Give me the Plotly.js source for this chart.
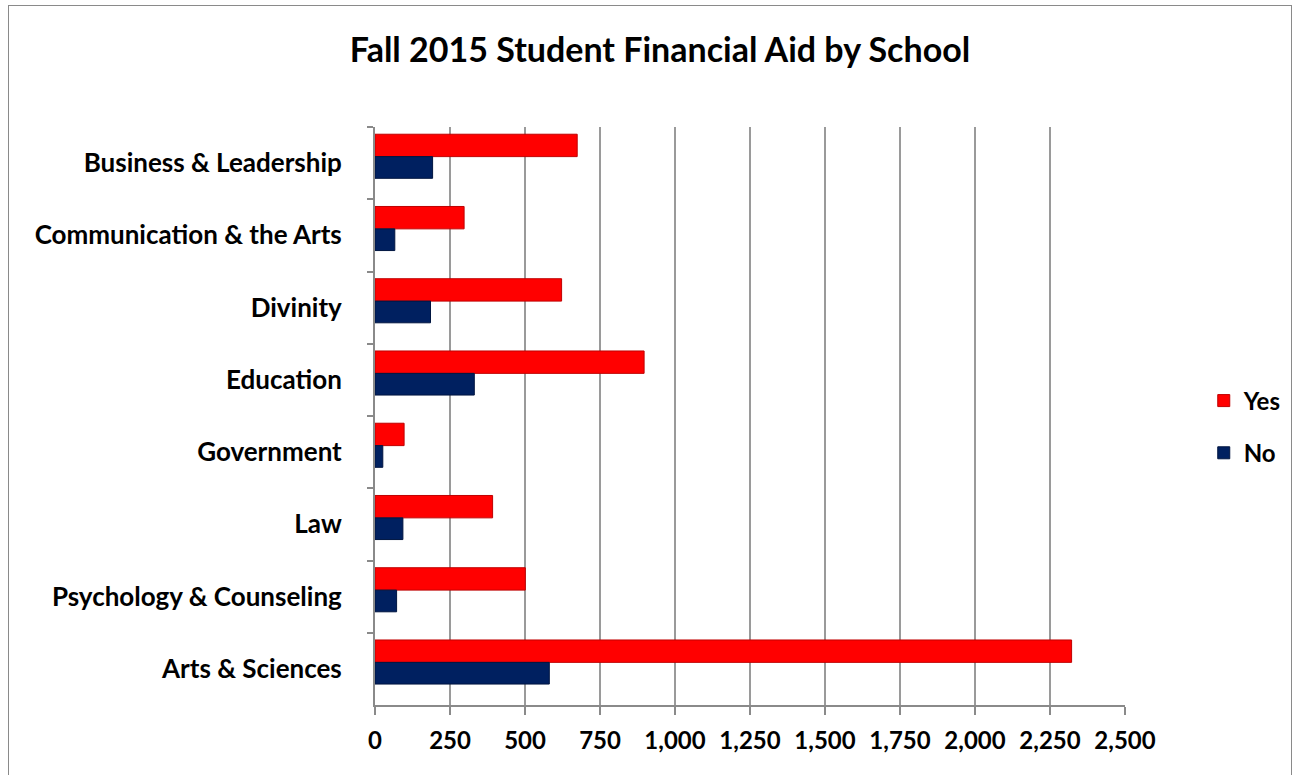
<!DOCTYPE html>
<html>
<head>
<meta charset="utf-8">
<script src="https://cdn.plot.ly/plotly-3.0.1.min.js"></script>
<style>
  html, body { margin: 0; padding: 0; background: #fff; }
  #chart { position: absolute; left: 0; top: 0; width: 1294px; height: 775px; }
  #frame { position: absolute; left: 8px; top: 5px; width: 1282px; height: 790px; border: 1px solid #8a8a8a; pointer-events: none; }
</style>
</head>
<body>
<div id="chart"></div>
<div id="frame"></div>
<script>
const schools = [
  "Business & Leadership",
  "Communication & the Arts",
  "Divinity",
  "Education",
  "Government",
  "Law",
  "Psychology & Counseling",
  "Arts & Sciences"
];
const yesValues = [674, 297, 622, 897, 97, 392, 501, 2322];
const noValues  = [192, 66, 185, 331, 26, 93, 72, 581];
const xTicks = [0, 250, 500, 750, 1000, 1250, 1500, 1750, 2000, 2250, 2500];

const fam = "Lato, 'Open Sans', sans-serif";
const yFont = { family: fam, size: 26, color: "#000", weight: "bold" };
const xFont = { family: fam, size: 24, color: "#000", weight: "bold" };
const legFont = { family: fam, size: 24, color: "#000", weight: "bold" };

const traces = [
  {
    type: "bar", orientation: "h", name: "Yes",
    y: schools, x: yesValues,
    offset: -0.40, width: 0.31,
    marker: { color: "#FF0000", line: { color: "#C00000", width: 1 } },
    legendgroup: "yes"
  },
  {
    type: "bar", orientation: "h", name: "No",
    y: schools, x: noValues,
    offset: -0.09, width: 0.30,
    marker: { color: "#002060", line: { color: "#001540", width: 1 } },
    legendgroup: "no"
  }
];

const layout = {
  width: 1294, height: 775,
  margin: { l: 375, r: 169, t: 127, b: 70, autoexpand: false },
  paper_bgcolor: "#ffffff",
  plot_bgcolor: "#ffffff",
  barmode: "group",
  title: {
    text: "Fall 2015 Student Financial Aid by School",
    font: { family: fam, size: 34, color: "#000", weight: "bold" },
    x: 0.51, xanchor: "center", y: 0.935, yanchor: "middle"
  },
  xaxis: {
    range: [0, 2500],
    tickvals: xTicks,
    tickformat: ",d",
    tickfont: xFont,
    showgrid: true, gridcolor: "#9a9a9a", gridwidth: 2,
    zeroline: false,
    showline: true, linecolor: "#8a8a8a", linewidth: 2,
    ticks: "outside", ticklen: 8, tickcolor: "#8a8a8a", tickwidth: 2,
    ticklabelstandoff: 5,
    fixedrange: true
  },
  yaxis: {
    autorange: "reversed",
    type: "category",
    tickfont: yFont,
    showgrid: false,
    showline: true, linecolor: "#8a8a8a", linewidth: 2,
    ticks: "outside", ticklen: 6, tickcolor: "#8a8a8a", tickwidth: 2,
    tickson: "boundaries",
    ticklabelstandoff: 26,
    fixedrange: true
  },
  legend: {
    x: 1.105, xanchor: "left",
    y: 0.481, yanchor: "middle",
    font: legFont,
    traceorder: "grouped",
    tracegroupgap: 18,
    itemwidth: 30,
    bgcolor: "rgba(0,0,0,0)"
  },
  showlegend: true
};

Plotly.newPlot("chart", traces, layout, { displayModeBar: false, staticPlot: true });
</script>
</body>
</html>
